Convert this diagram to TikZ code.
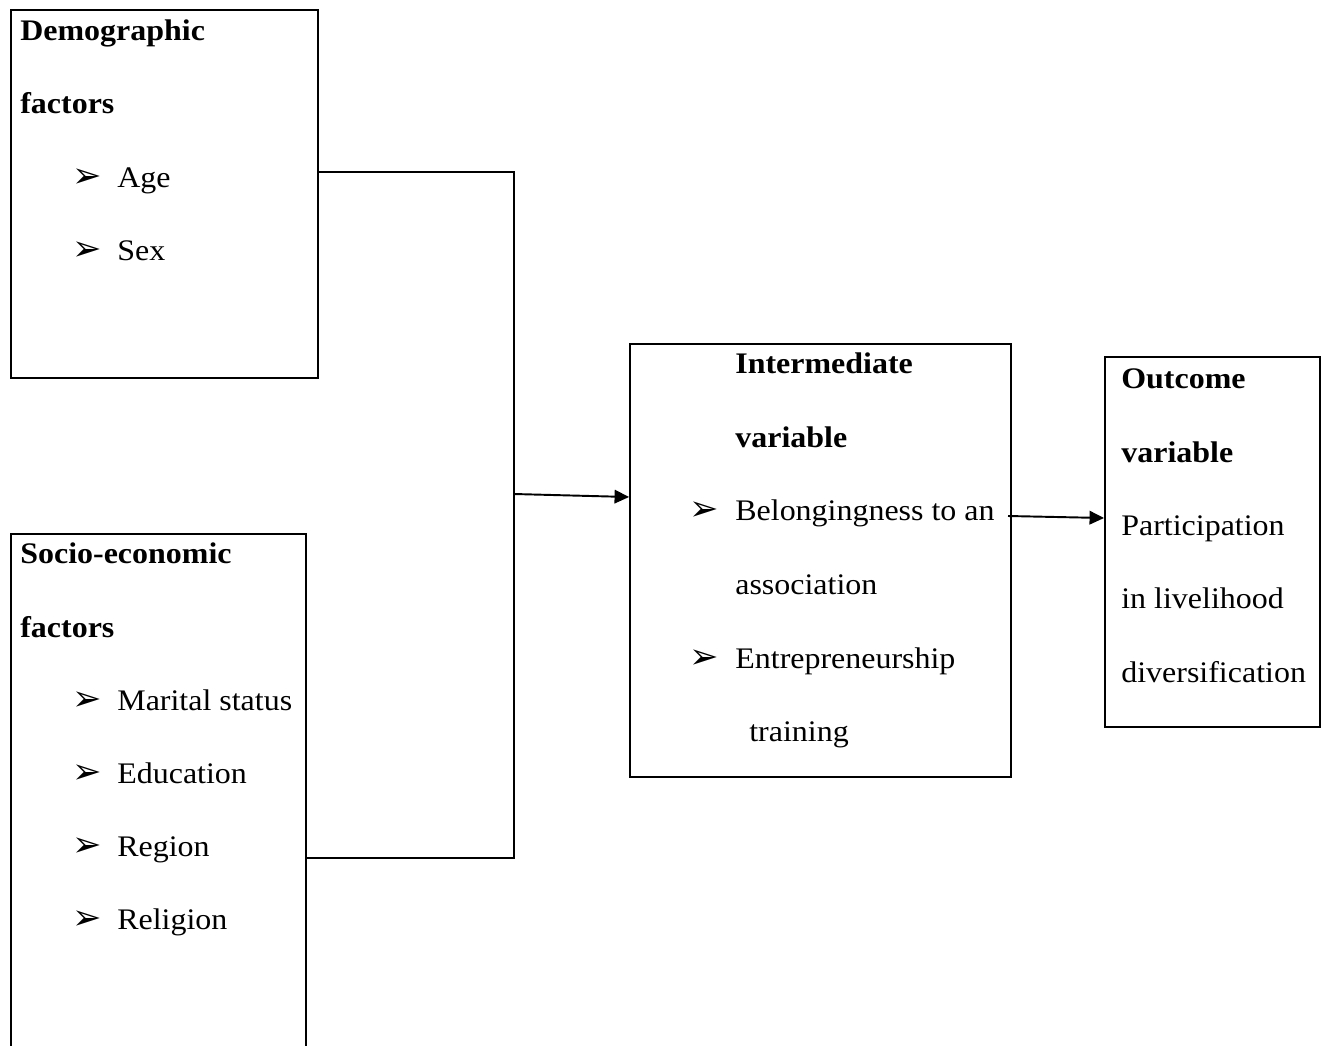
\documentclass[tikz,border=0pt]{standalone}
\usepackage{fontspec}
\setmainfont{Liberation Serif}[FakeStretch=1.07]
\newfontfamily\symfont{DejaVu Sans}
\usetikzlibrary{arrows.meta}
\newcommand{\bul}{{\symfont\fontsize{20}{20}\selectfont\char"27A2}}

\begin{document}
\begin{tikzpicture}[x=0.02cm, y=-0.02cm,
  box/.style={rectangle, draw, line width=1.1pt, inner sep=0pt},
  txt/.style={anchor=base west, inner sep=0pt, font=\fontsize{17}{20}\selectfont},
  head/.style={anchor=base west, inner sep=0pt, font=\fontsize{17}{20}\selectfont\bfseries},
  link/.style={line width=1.1pt},
  arrow/.style={line width=1.1pt, -{Triangle[length=2.9mm, width=2.7mm]}}
]
\useasboundingbox (0,0) rectangle (1322,1045);
\clip (0,0) rectangle (1322,1045);

% Boxes
\node[box, minimum width=6.14cm, minimum height=7.36cm] (demo) at (164.5,194) {};
\node[box, minimum width=5.9cm, minimum height=10.62cm] (socio) at (158.5,799.5) {};
\node[box, minimum width=7.62cm, minimum height=8.66cm] (inter) at (820.5,560.5) {};
\node[box, minimum width=4.3cm, minimum height=7.4cm] (outc) at (1212.5,542) {};

% Demographic factors
\node[head] (demohead) at (20,40) {Demographic};
\node[head] (demohead2) at (20,113) {factors};
\node[txt] (agebul) at (72,187) {\bul};
\node[txt] (age) at (117,187) {Age};
\node[txt] (sexbul) at (72,260) {\bul};
\node[txt] (sex) at (117,260) {Sex};

% Socio-economic factors
\node[head] (sociohead) at (20,563) {Socio-economic};
\node[head] (sociohead2) at (20,637) {factors};
\node[txt] (maritalbul) at (72,710) {\bul};
\node[txt] (marital) at (117,710) {Marital status};
\node[txt] (edubul) at (72,783) {\bul};
\node[txt] (edu) at (117,783) {Education};
\node[txt] (regionbul) at (72,856) {\bul};
\node[txt] (region) at (117,856) {Region};
\node[txt] (religbul) at (72,929) {\bul};
\node[txt] (relig) at (117,929) {Religion};

% Intermediate variable
\node[head] (interhead) at (735,373) {Intermediate};
\node[head] (interhead2) at (735,447) {variable};
\node[txt] (assocbul) at (689,520) {\bul};
\node[txt] (assoc) at (735,520) {Belongingness to an};
\node[txt] (assoc2) at (735,594) {association};
\node[txt] (trainbul) at (689,668) {\bul};
\node[txt] (train) at (735,668) {Entrepreneurship};
\node[txt] (train2) at (749,741) {training};

% Outcome variable
\node[head] (outchead) at (1121,388) {Outcome};
\node[head] (outchead2) at (1121,462) {variable};
\node[txt] (part) at (1121,535) {Participation};
\node[txt] (part2) at (1121,608) {in livelihood};
\node[txt] (part3) at (1121,682) {diversification};

% Connectors
\coordinate (jtop) at (514,172);
\coordinate (jbot) at (514,858);
\coordinate (jmid) at (514,494);
\coordinate (jin) at (630,497);
\coordinate (jout) at (1008,516);
\coordinate (jend) at (1105,518);
\draw[link] (demo.east |- jtop) -- (jtop) -- (jbot) -- (socio.east |- jbot);
\draw[arrow] (jmid) -- (inter.west |- jin);
\draw[arrow] (jout) -- (outc.west |- jend);

\end{tikzpicture}
\end{document}
